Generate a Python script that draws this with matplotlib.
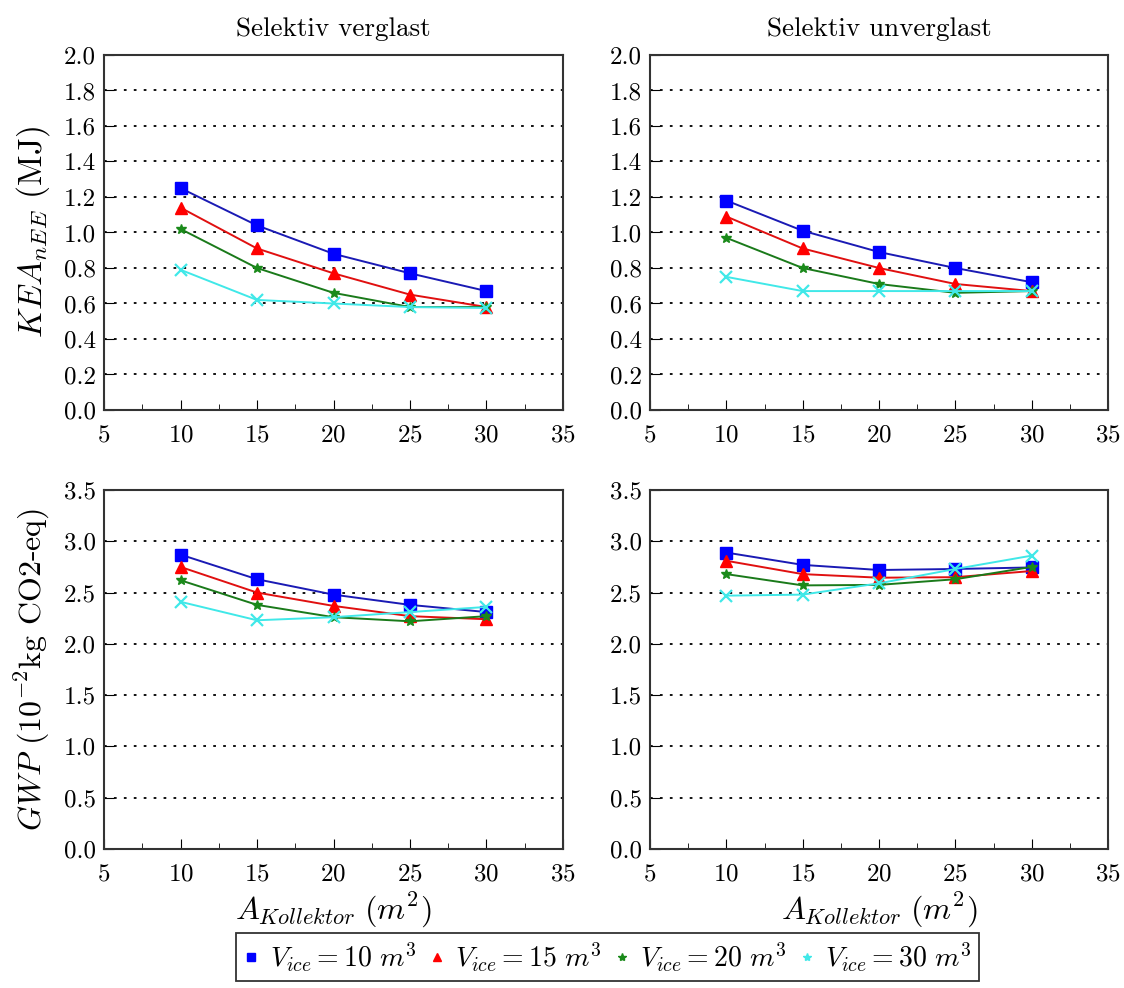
import matplotlib
matplotlib.use("Agg")
import matplotlib.pyplot as plt
from matplotlib.lines import Line2D
from matplotlib.ticker import MultipleLocator

# FONTS (LATEX LOOK)
plt.rcParams['font.family'] = 'cmr10'
plt.rcParams['mathtext.fontset'] = 'cm'
plt.rcParams['axes.formatter.use_mathtext'] = True

# DATA
area = [10, 15, 20, 25, 30]
labels = [r'$V_{ice} = 10\ m^3$', r'$V_{ice} = 15\ m^3$',
          r'$V_{ice} = 20\ m^3$', r'$V_{ice} = 30\ m^3$']

kea_verglast = [
    [1.25, 1.04, 0.88, 0.77, 0.67],
    [1.14, 0.91, 0.77, 0.65, 0.58],
    [1.02, 0.80, 0.66, 0.58, 0.58],
    [0.79, 0.62, 0.60, 0.58, 0.575],
]
kea_unverglast = [
    [1.18, 1.01, 0.89, 0.80, 0.72],
    [1.09, 0.91, 0.80, 0.71, 0.67],
    [0.97, 0.80, 0.71, 0.66, 0.67],
    [0.75, 0.67, 0.67, 0.67, 0.67],
]
gwp_verglast = [
    [2.87, 2.63, 2.48, 2.38, 2.31],
    [2.75, 2.50, 2.37, 2.27, 2.24],
    [2.62, 2.38, 2.26, 2.22, 2.27],
    [2.41, 2.23, 2.26, 2.31, 2.36],
]
gwp_unverglast = [
    [2.89, 2.77, 2.72, 2.73, 2.745],
    [2.81, 2.68, 2.645, 2.65, 2.71],
    [2.68, 2.57, 2.575, 2.63, 2.75],
    [2.47, 2.48, 2.59, 2.73, 2.86],
]

# STYLES
line_colors = ['#1a1ab4', '#e01010', '#1a7a1a', '#40e8e8']
marker_colors = ['#0000ff', '#ff0000', '#1a8a1a', '#40e8e8']
markers = ['s', '^', '*', 'x']
msizes = [8, 8, 7, 8]

fig = plt.figure(figsize=(11.24, 9.88), dpi=100)
W, H = 1124, 988
boxes = [(104, 55, 563, 410), (650, 55, 1108, 410),
         (104, 490, 563, 849), (650, 490, 1108, 849)]
axes = [fig.add_axes([l / W, 1 - b / H, (r - l) / W, (b - t) / H]) for l, t, r, b in boxes]

panels = [kea_verglast, kea_unverglast, gwp_verglast, gwp_unverglast]
for i, (ax, data) in enumerate(zip(axes, panels)):
    for j, series in enumerate(data):
        ax.plot(area, series, color=line_colors[j], lw=1.4, marker=markers[j],
                markersize=msizes[j], markerfacecolor=marker_colors[j],
                markeredgecolor=marker_colors[j], markeredgewidth=1.6 if j == 3 else 1,
                zorder=3 + j)
    ax.set_xlim(5, 35)
    ax.xaxis.set_major_locator(MultipleLocator(5))
    ax.xaxis.set_minor_locator(MultipleLocator(2.5))
    if i < 2:
        ax.set_ylim(0, 2.0)
        ax.yaxis.set_major_locator(MultipleLocator(0.2))
    else:
        ax.set_ylim(0, 3.5)
        ax.yaxis.set_major_locator(MultipleLocator(0.5))
    ax.yaxis.set_major_formatter(matplotlib.ticker.FormatStrFormatter('%.1f'))
    ax.grid(axis='y', color='black', linestyle=(0, (1.5, 4)), lw=1.3)
    ax.tick_params(which='both', direction='in', labelsize=18, top=False, right=False)
    ax.tick_params(which='major', length=7)
    ax.tick_params(which='minor', length=4)
    ax.tick_params(axis='x', pad=10)
    ax.tick_params(axis='y', pad=6)
    for s in ax.spines.values():
        s.set_linewidth(1.5)
        s.set_color('#333333')

axes[0].set_title('Selektiv verglast', fontsize=19.5, pad=14)
axes[1].set_title('Selektiv unverglast', fontsize=19.5, pad=14)
axes[0].set_ylabel(r'$KEA_{nEE}$ (MJ)', fontsize=24, labelpad=8)
axes[2].set_ylabel(r'$GWP$ ($10^{-2}$kg CO2-eq)', fontsize=23, labelpad=8)
axes[2].set_xlabel(r'$A_{Kollektor}\ (m^2)$', fontsize=23, labelpad=4)
axes[3].set_xlabel(r'$A_{Kollektor}\ (m^2)$', fontsize=23, labelpad=4)

# LEGEND
handles = [Line2D([], [], linestyle='none', marker=m, color=c, markersize=6)
           for m, c in zip(['s', '^', '*', '*'], marker_colors)]
leg = fig.legend(handles, labels, loc='center', bbox_to_anchor=(0.5405, 1 - 957 / H),
                 ncol=4, fontsize=20, frameon=True, fancybox=False, edgecolor='black',
                 handlelength=0.6, handletextpad=0.35, columnspacing=0.45,
                 borderpad=0.25, borderaxespad=0.2)
leg.get_frame().set_linewidth(1.3)

fig.savefig('out.png', dpi=100)
